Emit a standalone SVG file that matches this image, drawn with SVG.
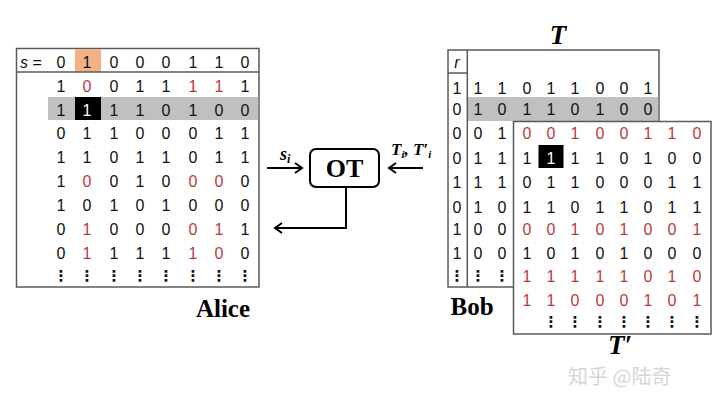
<svg xmlns="http://www.w3.org/2000/svg" width="720" height="409" viewBox="0 0 720 409">
<defs>
<style>
.bg{fill:#ffffff}
.tb{fill:#ffffff;stroke:#5a5a5a;stroke-width:1.5}
.ln{stroke:#5a5a5a;stroke-width:1.5;fill:none}
.gray{fill:#c0c0c0}
.org{fill:#f4b183}
.blk{fill:#000000}
.d{font-family:"Liberation Sans","DejaVu Sans",sans-serif;font-size:16px;fill:#111111;text-anchor:middle}
.r{fill:#b83c3c}
.w{fill:#ffffff}
.dots{font-family:"DejaVu Sans",sans-serif;font-size:15px;font-weight:bold;fill:#111111;text-anchor:middle}
.it{font-style:italic}
.lbl{font-family:"Liberation Serif","Times New Roman",serif;font-weight:bold;fill:#000000;text-anchor:middle}
.bi{font-family:"Liberation Serif","Times New Roman",serif;font-weight:bold;font-style:italic;fill:#000000}
.con{stroke:#000000;stroke-width:2;fill:none}
.wm{font-family:"Noto Sans CJK SC","Liberation Sans",sans-serif;font-size:20px;fill:#d6d6d6}
</style>
<marker id="ah" markerWidth="12" markerHeight="12" refX="9" refY="6" orient="auto" markerUnits="userSpaceOnUse">
<path d="M2,1 L9,6 L2,11" fill="none" stroke="#000000" stroke-width="2"/>
</marker>
</defs>
<rect class="bg" x="0" y="0" width="720" height="409"/>

<g id="alice">
<rect class="tb" x="16.5" y="48.5" width="242.5" height="238.5"/>
<rect class="org" x="75" y="49.3" width="26" height="22.5"/>
<rect class="gray" x="48" y="97" width="210.2" height="23"/>
<rect class="blk" x="75" y="97" width="26" height="23"/>
<line class="ln" x1="16.5" y1="72" x2="259" y2="72"/>
<text class="d" x="31" y="67.5"><tspan class="it">s</tspan> =</text>
<text class="d" x="61 87 114 140 166 193 219 245" y="67.5">01000110</text>
<text class="d" x="61 87 114 140 166 193 219 245" y="92">1<tspan class="r">0</tspan>011<tspan class="r">11</tspan>1</text>
<text class="d" x="61 87 114 140 166 193 219 245" y="115.5">1<tspan class="w">1</tspan>110100</text>
<text class="d" x="61 87 114 140 166 193 219 245" y="138.5">01100011</text>
<text class="d" x="61 87 114 140 166 193 219 245" y="163">11011011</text>
<text class="d" x="61 87 114 140 166 193 219 245" y="187">1<tspan class="r">0</tspan>010<tspan class="r">00</tspan>0</text>
<text class="d" x="61 87 114 140 166 193 219 245" y="210.5">10101000</text>
<text class="d" x="61 87 114 140 166 193 219 245" y="234.5">0<tspan class="r">1</tspan>000<tspan class="r">01</tspan>1</text>
<text class="d" x="61 87 114 140 166 193 219 245" y="258.5">0<tspan class="r">1</tspan>111<tspan class="r">10</tspan>0</text>
<text class="dots" x="61 87 114 140 166 193 219 245" y="281">⋮⋮⋮⋮⋮⋮⋮⋮</text>
<text class="lbl" x="223" y="317" font-size="25">Alice</text>
</g>

<g id="bob-T">
<text class="bi" x="558" y="44" font-size="27" text-anchor="middle">T</text>
<rect class="tb" x="448" y="50" width="211" height="237"/>
<rect class="gray" x="467.7" y="97" width="190.5" height="24"/>
<line class="ln" x1="467.3" y1="50" x2="467.3" y2="287"/>
<line class="ln" x1="448" y1="73" x2="467.3" y2="73"/>
<text class="d it" x="457" y="67.5">r</text>
<text class="d" x="457" y="93.5">1</text>
<text class="d" x="457" y="114.5">0</text>
<text class="d" x="457" y="138.5">0</text>
<text class="d" x="457" y="163.5">0</text>
<text class="d" x="457" y="187.5">1</text>
<text class="d" x="457" y="212.5">0</text>
<text class="d" x="457" y="234.5">1</text>
<text class="d" x="457" y="258.5">1</text>
<text class="dots" x="457" y="281">⋮</text>
<text class="d" x="478 502 527 551 575 600 624 648" y="93.5">11011001</text>
<text class="d" x="478 502 527 551 575 600 624 648" y="114.5">10110100</text>
<text class="d" x="478 502" y="138.5">01</text>
<text class="d" x="478 502" y="163.5">11</text>
<text class="d" x="478 502" y="187.5">11</text>
<text class="d" x="478 502" y="212.5">10</text>
<text class="d" x="478 502" y="234.5">00</text>
<text class="d" x="478 502" y="258.5">00</text>
<text class="dots" x="478 502" y="281">⋮⋮</text>
<text class="lbl" x="472" y="315" font-size="25">Bob</text>
</g>

<g id="bob-Tprime">
<rect class="tb" x="513.5" y="121.5" width="197.5" height="212.5"/>
<rect class="blk" x="538.5" y="145" width="25" height="23"/>
<text class="d r" x="527 551 575 600 624 648 672 697" y="138.5">00100110</text>
<text class="d" x="527 551 575 600 624 648 672 697" y="163.5">1<tspan class="w">1</tspan>110100</text>
<text class="d" x="527 551 575 600 624 648 672 697" y="187.5">01100011</text>
<text class="d" x="527 551 575 600 624 648 672 697" y="212.5">11011011</text>
<text class="d r" x="527 551 575 600 624 648 672 697" y="234.5">00101001</text>
<text class="d" x="527 551 575 600 624 648 672 697" y="258.5">10101000</text>
<text class="d r" x="527 551 575 600 624 648 672 697" y="281.5">11111010</text>
<text class="d r" x="527 551 575 600 624 648 672 697" y="305.5">11000101</text>
<text class="dots" x="551 575 600 624 648 672 697" y="327">⋮⋮⋮⋮⋮⋮⋮</text>
<text class="bi" x="620" y="354" font-size="27" text-anchor="middle">T′</text>
</g>

<g id="ot">
<rect x="310" y="149" width="69" height="38" rx="6" ry="6" fill="#ffffff" stroke="#000000" stroke-width="2"/>
<text class="lbl" x="344.5" y="177" font-size="26">OT</text>
</g>

<g id="connectors">
<line class="con" x1="267" y1="168" x2="302" y2="168" marker-end="url(#ah)"/>
<line class="con" x1="423" y1="168" x2="389" y2="168" marker-end="url(#ah)"/>
<polyline class="con" points="346,187 346,228 275,228" marker-end="url(#ah)"/>
<text class="bi" x="280" y="160" font-size="18">s<tspan font-size="12" dy="3">i</tspan></text>
<text class="bi" x="391" y="155" font-size="17">T<tspan font-size="11" dy="3">i</tspan><tspan dy="-3">, T′</tspan><tspan font-size="11" dy="3">i</tspan></text>
</g>

<text class="wm" x="568" y="384">知乎 @陆奇</text>
</svg>
